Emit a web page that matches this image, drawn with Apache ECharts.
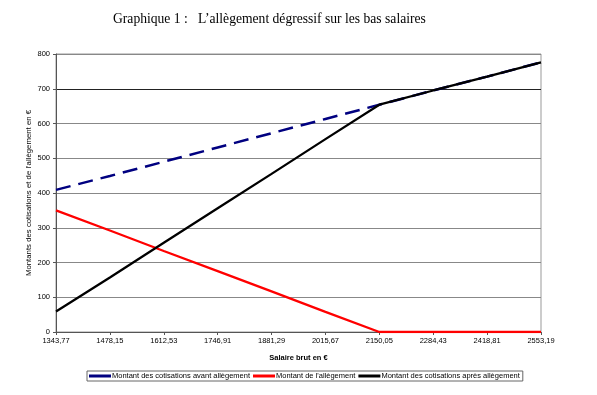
<!DOCTYPE html>
<html><head><meta charset="utf-8">
<script src="https://cdn.jsdelivr.net/npm/echarts@6/dist/echarts.min.js"></script>
<style>html,body{margin:0;padding:0;background:#fff}#c{width:597px;height:395px}</style>
</head><body><div id="c"></div>
<script>
const categories = ['1343,77','1478,15','1612,53','1746,91','1881,29','2015,67','2150,05','2284,43','2418,81','2553,19'];
const avant = [409, 449, 490, 531, 572, 613, 654, 695, 735, 776];
const allegement = [350, 292, 233, 175, 117, 58, 0, 0, 0, 0];
const apres = [59, 157, 257, 356, 455, 555, 654, 695, 735, 776];
const yTicks = [0, 800, 100];

const chart = echarts.init(document.getElementById('c'));
chart.setOption({
  animation: false,
  title: {
    text: 'Graphique 1 :   L\u2019allègement dégressif sur les bas salaires',
    left: 113, top: 12, padding: 0,
    textStyle: {fontFamily: 'Liberation Serif', fontSize: 13.6, fontWeight: 'normal', color: '#000'}
  },
  grid: {left: 56, right: 56, top: 54, bottom: 63, show: true, borderColor: '#999', borderWidth: 1},
  legend: {
    left: 87, top: 371, padding: [1, 3, 1, 2],
    borderColor: '#666', borderWidth: 1, borderRadius: 0,
    itemGap: 3, itemWidth: 22, itemHeight: 3,
    textStyle: {fontFamily: 'Liberation Sans', fontSize: 7.5, color: '#000', padding: [0, 0, 0, -4]},
    data: [
      {name: 'Montant des cotisations avant allègement', icon: 'rect'},
      {name: 'Montant de l\'allègement', icon: 'rect'},
      {name: 'Montant des cotisations après allègement', icon: 'rect'}
    ]
  },
  xAxis: {
    type: 'category', data: categories, boundaryGap: false,
    name: 'Salaire brut en €', nameLocation: 'middle', nameGap: 22,
    nameTextStyle: {fontFamily: 'Liberation Sans', fontSize: 7.5, fontWeight: 'bold', color: '#000'},
    axisLine: {lineStyle: {color: '#555', width: 1}},
    axisTick: {show: true, length: 3, lineStyle: {color: '#555'}},
    axisLabel: {fontFamily: 'Liberation Sans', fontSize: 7.5, color: '#000', margin: 5, interval: 0}
  },
  yAxis: {
    type: 'value', min: yTicks[0], max: yTicks[1], interval: yTicks[2],
    name: 'Montants des cotisations et de l\'allègement en €', nameLocation: 'middle', nameGap: 23,
    nameMoveOverlap: false,
    nameTextStyle: {fontFamily: 'Liberation Sans', fontSize: 7.8, fontWeight: 'normal', color: '#000'},
    axisLine: {show: true, lineStyle: {color: '#555', width: 1}},
    axisTick: {show: true, length: 3, lineStyle: {color: '#555'}},
    axisLabel: {fontFamily: 'Liberation Sans', fontSize: 7.5, color: '#000', margin: 6},
    splitLine: {lineStyle: {color: ['#888','#888','#888','#888','#888','#888','#888','#222','#888'], width: 1}}
  },
  series: [
    {name: 'Montant des cotisations avant allègement', type: 'line', data: avant, symbol: 'none',
     color: '#000080', lineStyle: {color: '#000080', width: 2.5, type: [15, 8]}, z: 2},
    {name: 'Montant de l\'allègement', type: 'line', data: allegement, symbol: 'none',
     color: '#ff0000', lineStyle: {color: '#ff0000', width: 2.3}, z: 3},
    {name: 'Montant des cotisations après allègement', type: 'line', data: apres, symbol: 'none',
     color: '#000', lineStyle: {color: '#000', width: 2.3}, z: 4}
  ]
});
</script></body></html>
